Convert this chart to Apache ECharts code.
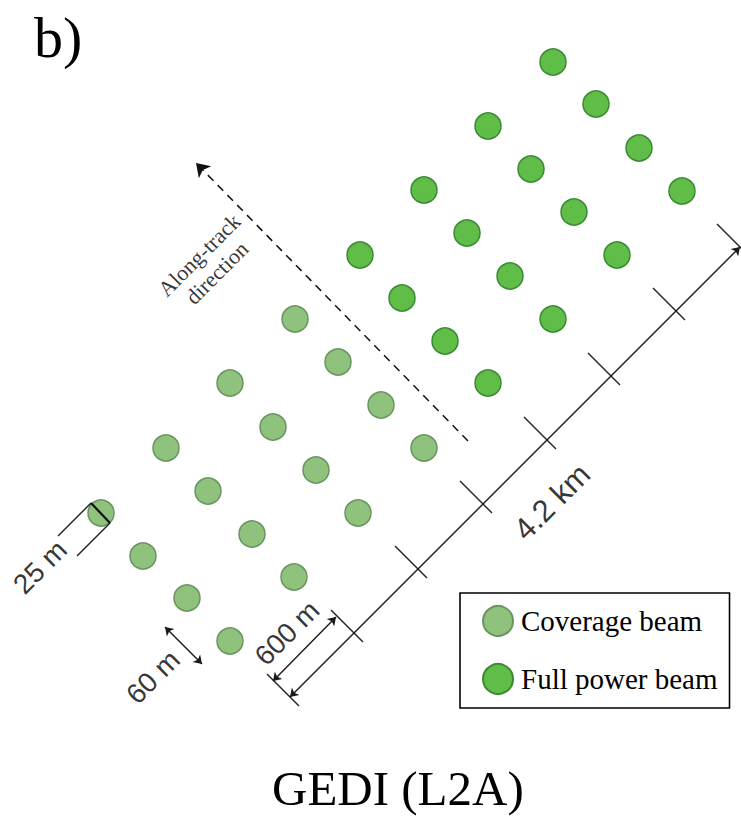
<!DOCTYPE html>
<html><head><meta charset="utf-8">
<script src="https://cdn.jsdelivr.net/npm/echarts@6/dist/echarts.min.js"></script>
<style>html,body{margin:0;padding:0;background:#fff}#c{width:741px;height:822px}</style>
</head><body><div id="c"></div>
<script>
// Beam footprint centres (x right, y down)
const coverageX = [295,338,381,424, 230,273,316,358, 166,208,252,294, 101,143,187,230];
const coverageY = [319,362,405,448, 383,427,470,513, 448,491,534,577, 513,556,598,641];
const fullPowerX = [553,596,639,682, 488,531,574,617, 424,467,510,553, 360,402,445,488];
const fullPowerY = [62,104,148,191, 126,169,212,255, 190,233,276,319, 255,298,341,383];

// Scale bar (4.2 km, 7 × 600 m) tick centres
const scaleTickX = [290,354,418,483,547,611,676,740];
const scaleTickY = [697,633,569,504,440,376,311,247];

// Dimension / arrow segments [x1,y1,x2,y2]
const scaleBar = [290,697,740,247];
const dim600 = [273,681,336,617];
const dim60 = [165,627,202,664];
const alongTrack = [468,441,196,163];
const dim25Bar = [91,503,110,523];
const dim25Ext = [[91,503,58,536],[110,523,77,556]];

const labelTexts = ['Along-track\ndirection','4.2 km','600 m','60 m','25 m'];
const labelX = [208,552,287,153,40];
const labelY = [264,502,633,677,567];

const seg = s => ({coords: [[s[0], s[1]], [s[2], s[3]]]});
const tickLines = scaleTickX.map((x, i) => ({coords: [[x - 23, scaleTickY[i] - 23], [x + 9, scaleTickY[i] + 9]]}));

const chart = echarts.init(document.getElementById('c'), null, {renderer: 'svg'});
const sans = 'Liberation Sans';
const serif = 'Liberation Serif';
chart.setOption({
  animation: false,
  backgroundColor: '#fff',
  title: [
    {text: 'b)', left: 34, top: 8, padding: 0,
     textStyle: {fontFamily: serif, fontSize: 58, fontWeight: 'normal', color: '#000'}},
    {text: 'GEDI (L2A)', left: 272, top: 766, padding: 0,
     textStyle: {fontFamily: serif, fontSize: 49, lineHeight: 44, fontWeight: 'normal', color: '#000'}}
  ],
  legend: {
    data: ['Coverage beam', 'Full power beam'],
    orient: 'vertical', left: 460, top: 593,
    padding: [12, 12, 13, 22], itemGap: 26,
    itemWidth: 30, itemHeight: 30, icon: 'circle',
    borderColor: '#000', borderWidth: 1.6, backgroundColor: '#fff',
    textStyle: {fontFamily: serif, fontSize: 29, color: '#000', padding: [0, 0, 0, 3]},
    selectedMode: false
  },
  grid: {left: 0, right: 0, top: 0, bottom: 0},
  xAxis: {type: 'value', min: 0, max: 741, show: false},
  yAxis: {type: 'value', min: 0, max: 822, inverse: true, show: false},
  series: [
    {name: 'Coverage beam', type: 'scatter', symbol: 'circle', symbolSize: 26, z: 2,
     itemStyle: {color: '#8fc27c', borderColor: '#6a9460', borderWidth: 1.5, opacity: 1},
     data: coverageX.map((x, i) => [x, coverageY[i]])},
    {name: 'Full power beam', type: 'scatter', symbol: 'circle', symbolSize: 26, z: 2,
     itemStyle: {color: '#60be48', borderColor: '#3b8a33', borderWidth: 1.5, opacity: 1},
     data: fullPowerX.map((x, i) => [x, fullPowerY[i]])},
    {type: 'lines', coordinateSystem: 'cartesian2d', silent: true, z: 3,
     symbol: 'none', lineStyle: {color: '#222', width: 1.4, opacity: 1},
     data: tickLines.concat(dim25Ext.map(seg))},
    {type: 'lines', coordinateSystem: 'cartesian2d', silent: true, z: 3,
     symbol: ['arrow', 'arrow'], symbolSize: 8,
     lineStyle: {color: '#1a1a1a', width: 1.4, opacity: 1},
     data: [seg(scaleBar), seg(dim600), seg(dim60)]},
    {type: 'lines', coordinateSystem: 'cartesian2d', silent: true, z: 3,
     symbol: ['none', 'arrow'], symbolSize: 13,
     lineStyle: {color: '#111', width: 1.5, type: [8, 6], opacity: 1},
     data: [seg(alongTrack)]},
    {type: 'lines', coordinateSystem: 'cartesian2d', silent: true, z: 4,
     symbol: 'none', lineStyle: {color: '#111', width: 2.2, opacity: 1},
     data: [seg(dim25Bar)]},
    {type: 'scatter', symbolSize: 1, silent: true, z: 5,
     itemStyle: {color: 'rgba(0,0,0,0)'},
     label: {show: true, position: 'inside', rotate: 45, color: '#000',
             textBorderWidth: 0, align: 'center', verticalAlign: 'middle',
             formatter: p => labelTexts[p.dataIndex]},
     data: labelX.map((x, i) => {
       const item = {value: [x, labelY[i]]};
       if (i === 0) item.label = {fontFamily: serif, fontSize: 22, lineHeight: 25, color: '#000'};
       else if (i === 1) item.label = {fontFamily: sans, fontSize: 31, color: '#000'};
       else item.label = {fontFamily: sans, fontSize: 28, color: '#000'};
       return item;
     })}
  ]
});
</script></body></html>
